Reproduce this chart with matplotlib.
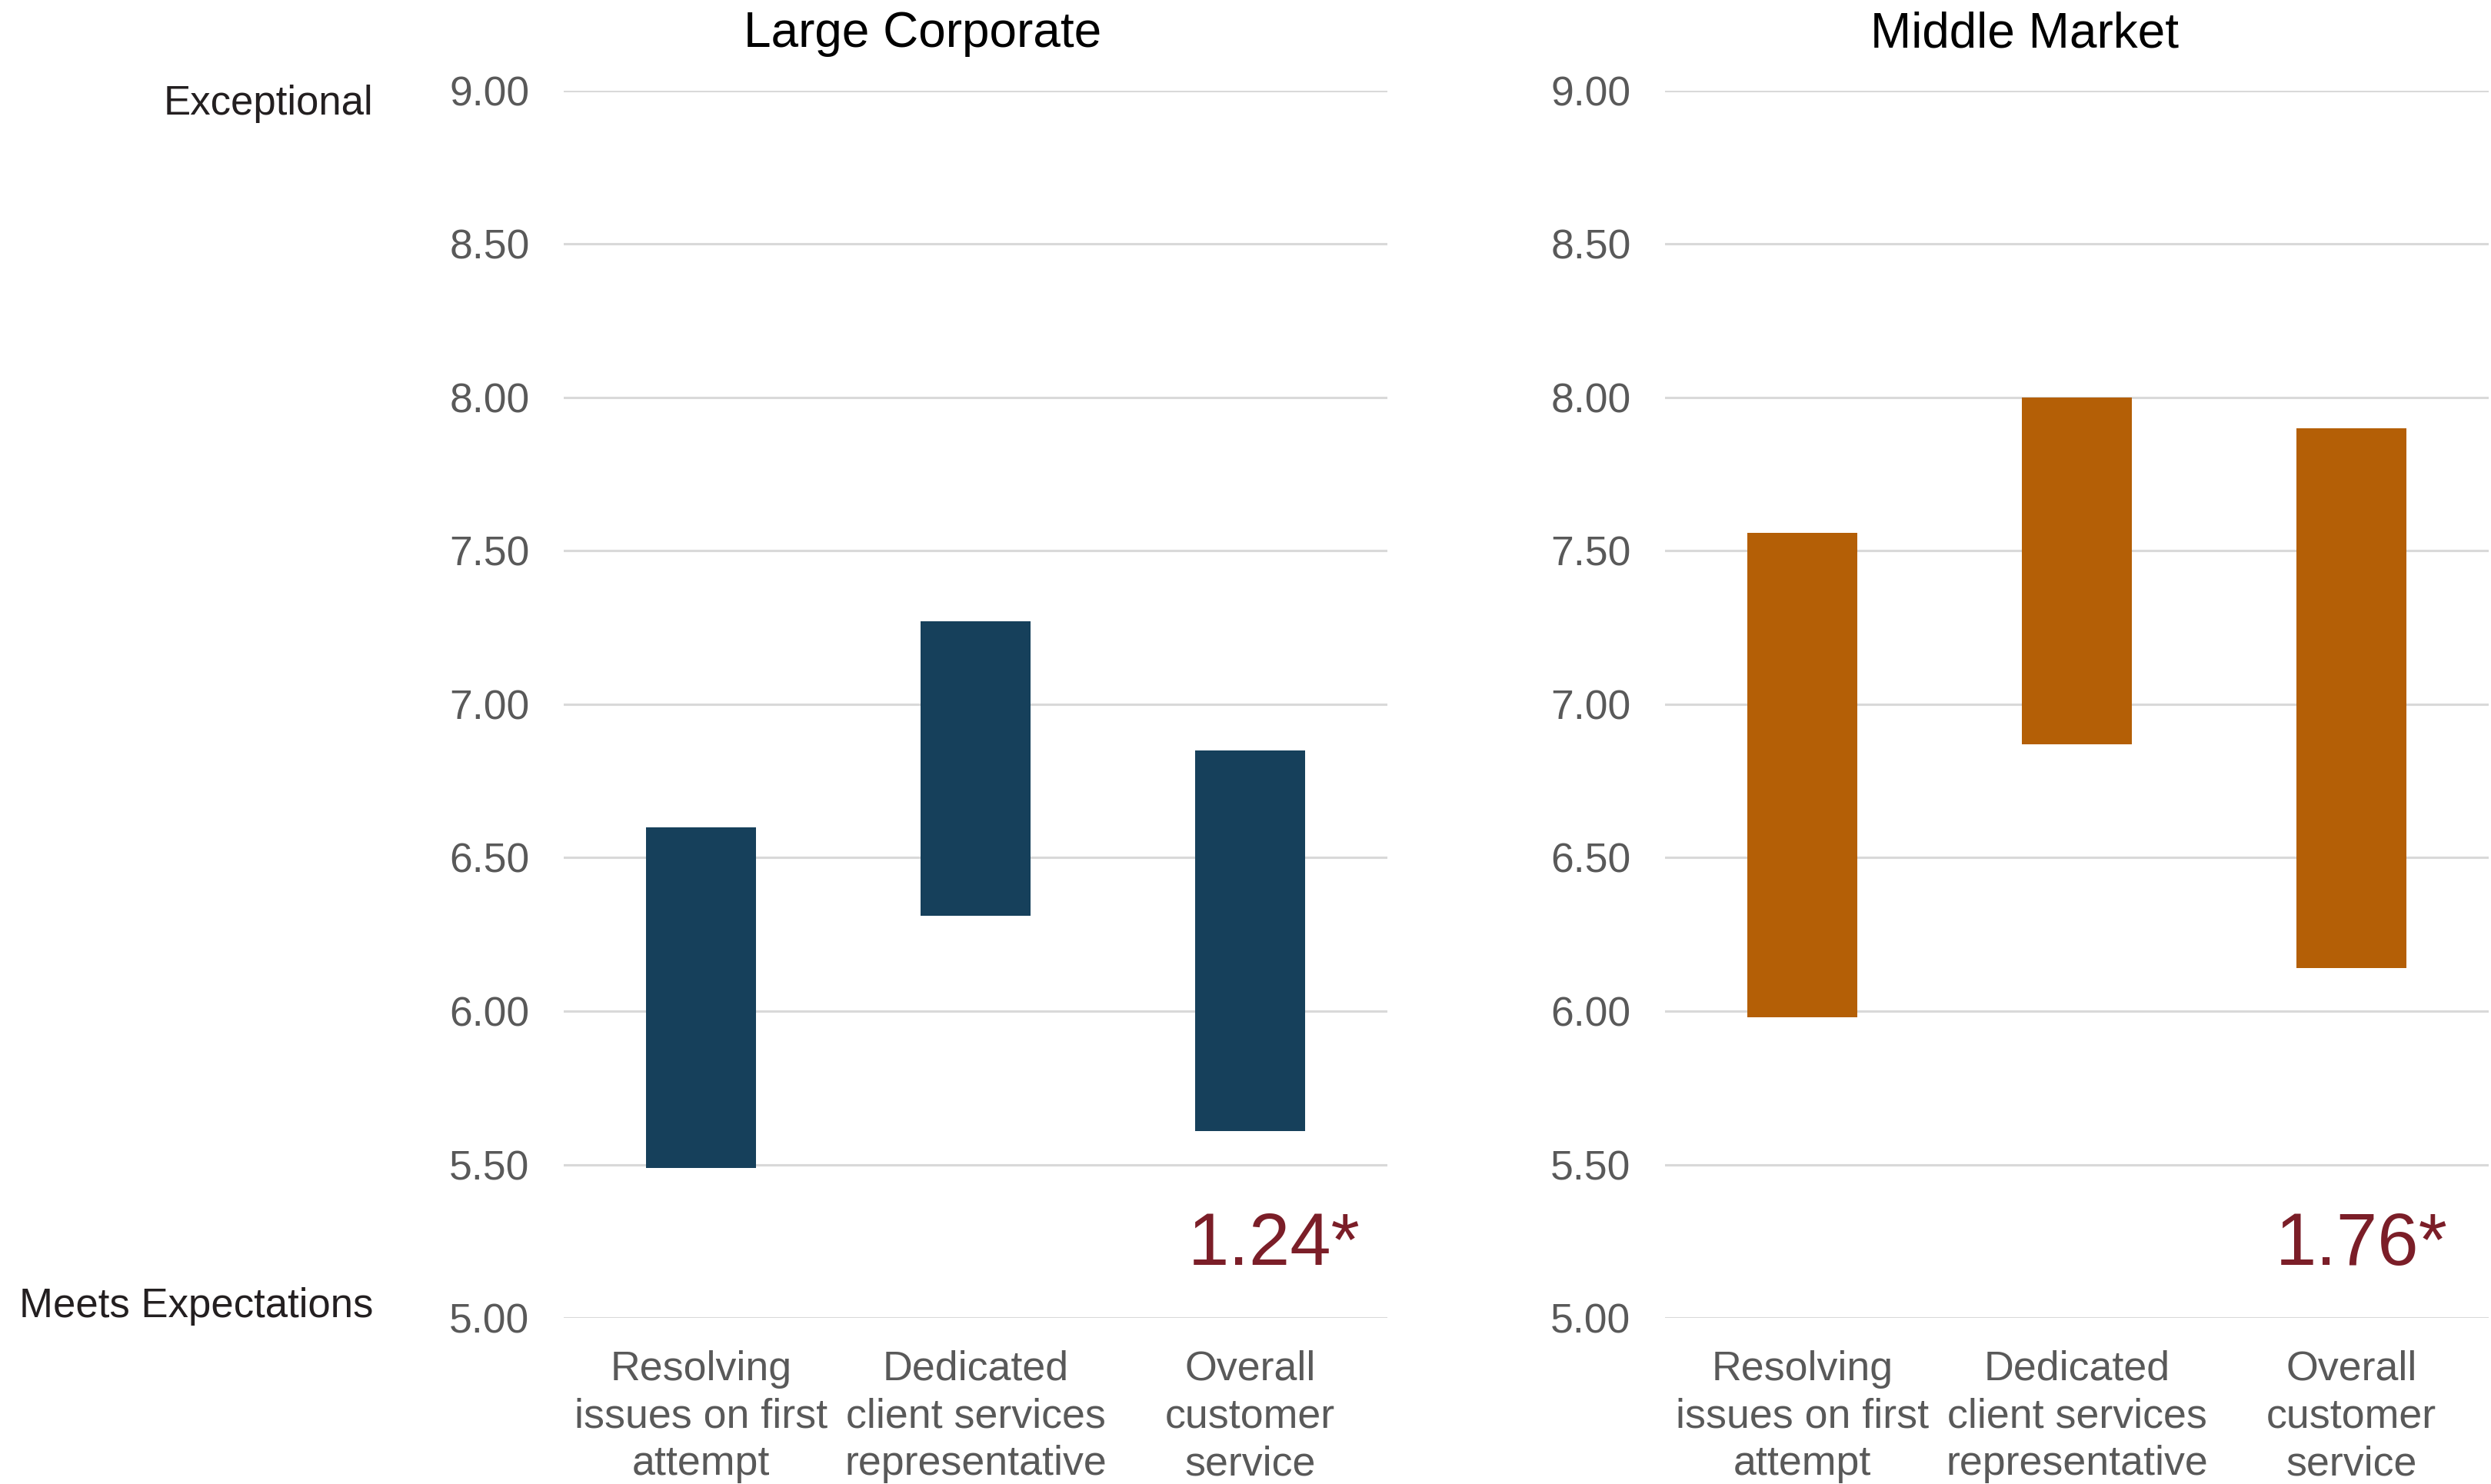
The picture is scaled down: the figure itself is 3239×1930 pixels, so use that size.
import matplotlib
matplotlib.use('Agg')
import matplotlib.pyplot as plt

plt.rcParams['font.family'] = ['Liberation Sans', 'DejaVu Sans']

# Score ranges per service attribute (low / high end of each bar)
categories = ['Resolving\nissues on first\nattempt',
              'Dedicated\nclient services\nrepresentative',
              'Overall\ncustomer\nservice']
large_low = [5.49, 6.31, 5.61]
large_high = [6.60, 7.27, 6.85]
middle_low = [5.98, 6.87, 6.14]
middle_high = [7.56, 8.00, 7.90]
gap_labels = ['1.24*', '1.76*']
yticks = [5.0, 5.5, 6.0, 6.5, 7.0, 7.5, 8.0, 8.5, 9.0]

NAVY = '#16405b'
ORANGE = '#b45f06'
GRID = '#d9d9d9'
TICK = '#595959'
ACCENT = '#7b1e28'

fig = plt.figure(figsize=(32.39, 19.30), dpi=100)

panels = [
    ('Large Corporate', large_low, large_high, NAVY, gap_labels[0],
     [0.2263, 0.1119, 0.3307, 0.8270], 0.3705, 2.90),
    ('Middle Market', middle_low, middle_high, ORANGE, gap_labels[1],
     [0.6684, 0.1119, 0.3307, 0.8270], 0.8126, 2.85),
]

for title, low, high, color, gap, rect, title_x, gap_x in panels:
    ax = fig.add_axes(rect)
    xs = [i + 0.5 for i in range(len(categories))]
    heights = [h - l for l, h in zip(low, high)]
    ax.bar(xs, heights, bottom=low, width=0.4, color=color, zorder=3)
    ax.set_xlim(0, 3)
    ax.set_ylim(5.0, 9.0)
    ax.set_yticks(yticks)
    ax.set_yticklabels([f'{t:.2f}' for t in yticks])
    ax.set_xticks(xs)
    ax.set_xticklabels(categories, linespacing=1.3)
    ax.tick_params(axis='y', length=0, pad=32, labelsize=38.5, labelcolor=TICK)
    ax.tick_params(axis='x', length=0, pad=30, labelsize=38.7, labelcolor=TICK)
    ax.grid(axis='y', color=GRID, linewidth=2.2, zorder=0)
    ax.set_axisbelow(True)
    for s in ax.spines.values():
        s.set_visible(False)
    # spread between lowest and highest scores
    ax.text(gap_x, 5.235, gap, ha='right', va='center', fontsize=69,
            color=ACCENT)
    fig.text(title_x, 0.977, title, ha='center', va='center', fontsize=46,
             color='black')

fig.text(0.1497, 0.930, 'Exceptional', ha='right', va='center',
         fontsize=38, color='#231f20')
fig.text(0.1497, 0.1195, 'Meets Expectations', ha='right', va='center',
         fontsize=38, color='#231f20')

fig.savefig('out.png', dpi=100, facecolor='white')
